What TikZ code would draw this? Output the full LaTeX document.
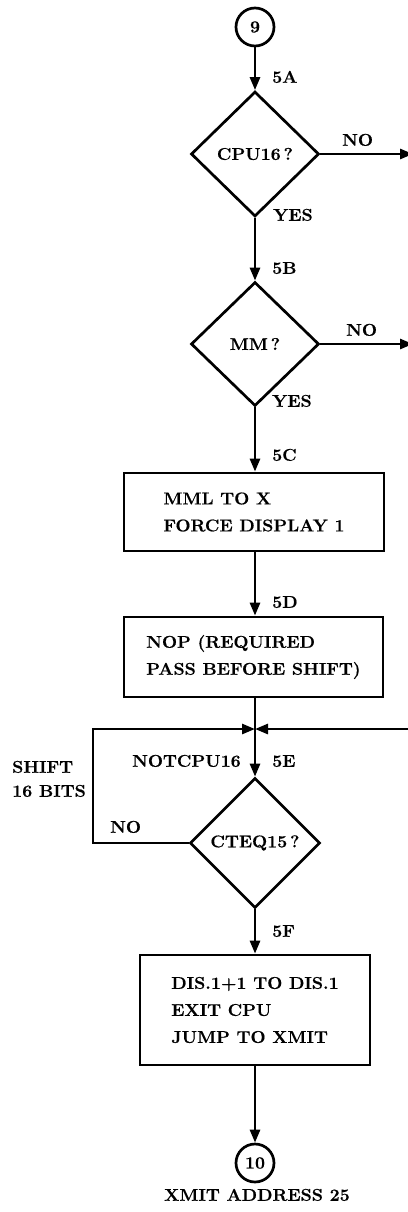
\documentclass[tikz,border=0pt]{standalone}
\usepackage{fontspec}
\setmainfont{Latin Modern Roman}[FakeStretch=1.05,BoldFeatures={FakeBold=0.6}]
\usetikzlibrary{shapes.geometric,arrows.meta}
\begin{document}
\begin{tikzpicture}[x=1pt,y=-1pt,
  every node/.style={font=\fontsize{17}{27}\selectfont\bfseries},
  flow/.style={line width=2.7pt,-{Triangle[length=13pt,width=10pt]}},
  plain/.style={line width=2.7pt},
  connector/.style={circle,draw,line width=2.7pt,minimum size=38pt,inner sep=0pt},
  decision/.style={diamond,draw,line width=2.7pt,inner sep=0pt,minimum width=#1},
  decision/.default=128pt,
  process/.style={rectangle,draw,line width=2.7pt,align=left,inner sep=0pt},
  tag/.style={inner sep=0pt,text height=11.5pt,text depth=0pt}]
\useasboundingbox (0,0) rectangle (407,1212);

% connectors and decisions on the main line x = 255
\node[connector] (c9) at (255,27) {9};
\node[decision,minimum height=125pt] (d1) at (255,154) {CPU16\,?};
\node[decision,minimum height=124pt] (d2) at (255,344) {MM\,?};
\node[decision=130pt,minimum height=130pt] (d3) at (255,843) {CTEQ15\,?};
\node[connector] (c10) at (255,1163) {10};

% process boxes
\node[process,minimum width=260pt,minimum height=78pt] (b1) at (254,512)
  {MML TO X\\FORCE DISPLAY 1};
\node[process,minimum width=259pt,minimum height=80pt] (b2) at (253.5,657)
  {NOP (REQUIRED\\PASS BEFORE SHIFT)};
\node[process,minimum width=230pt,minimum height=110pt] (b3) at (255,1010)
  {DIS.1+1 TO DIS.1\\EXIT CPU\\JUMP TO XMIT};

% free ends and corners
\coordinate (no1) at (413,154);
\coordinate (no2) at (413,344);
\coordinate (j) at (255,729);
\coordinate (rin) at (408,729);
\coordinate (lt) at (93,729);

% flow lines
\draw[flow] (c9) -- (d1.north);
\draw[flow] (d1.east) -- (no1);
\draw[flow] (d1.south) -- (d2.north);
\draw[flow] (d2.east) -- (no2);
\draw[flow] (d2.south) -- (d2.south |- b1.north);
\draw[flow] (j |- b1.south) -- (j |- b2.north);
\draw[plain] (j |- b2.south) -- (j);
\draw[flow] (j) -- (d3.north);
\draw[flow] (rin) -- (j);
\draw[flow] (d3.west) -- (d3.west -| lt) -- (lt) -- (j);
\draw[flow] (d3.south) -- (d3.south |- b3.north);
\draw[flow] (b3.south -| c10) -- (c10);

% labels
\node[tag,anchor=west] (l5a) at (272,77) {5A};
\node[tag,anchor=west] (lno1) at (342,140) {NO};
\node[tag,anchor=west] (lyes1) at (273,215) {YES};
\node[tag,anchor=west] (l5b) at (272,268) {5B};
\node[tag,anchor=west] (lno2) at (346,330) {NO};
\node[tag,anchor=west] (lyes2) at (272,401) {YES};
\node[tag,anchor=west] (l5c) at (272,455) {5C};
\node[tag,anchor=west] (l5d) at (272,602) {5D};
\node[tag,anchor=west] (lnot) at (132,761) {NOTCPU16};
\node[tag,anchor=west] (l5e) at (272,761) {5E};
\node[tag,anchor=west] (lshift) at (12,767) {SHIFT};
\node[tag,anchor=west] (lbits) at (12,791) {16 BITS};
\node[tag,anchor=west] (lno3) at (110,827) {NO};
\node[tag,anchor=west] (l5f) at (272,931) {5F};
\node[tag] (lxmit) at (257,1195) {XMIT ADDRESS 25};
\end{tikzpicture}
\end{document}
